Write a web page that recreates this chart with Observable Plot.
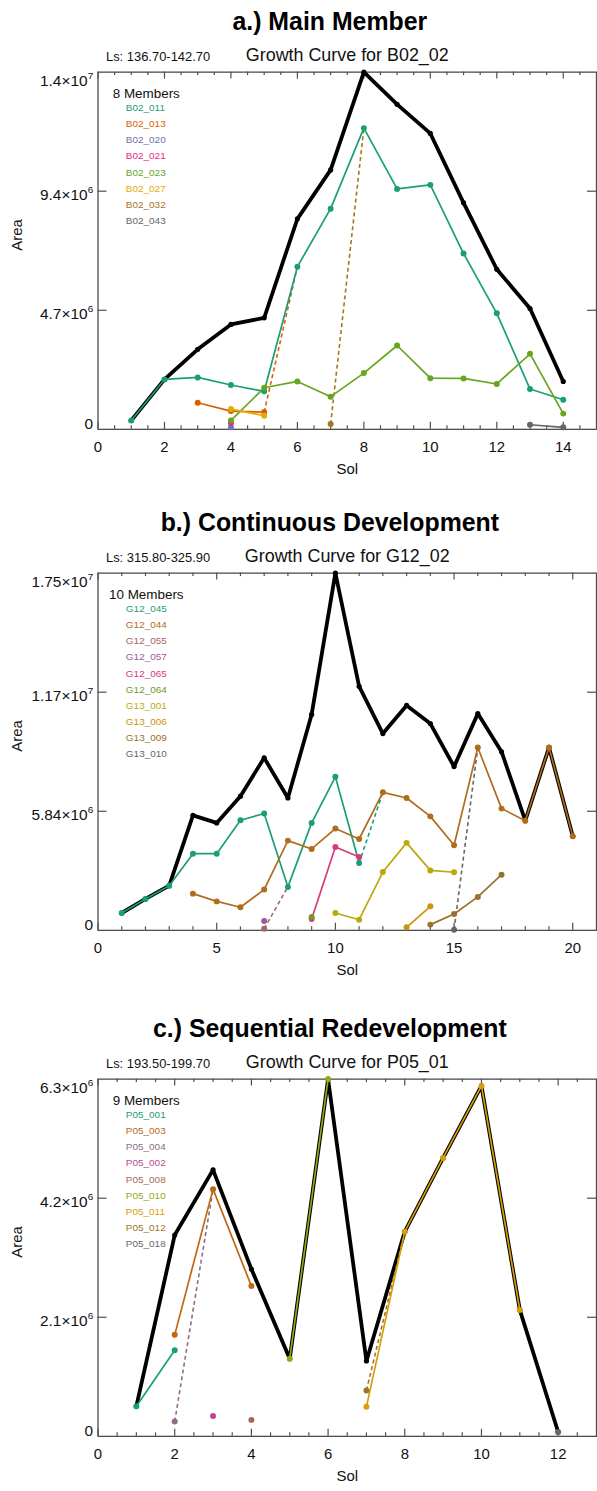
<!DOCTYPE html>
<html>
<head>
<meta charset="utf-8">
<script src="https://cdn.jsdelivr.net/npm/d3@7"></script>
<script src="https://cdn.jsdelivr.net/npm/@observablehq/plot@0.6"></script>
<style>
  html, body { margin: 0; padding: 0; background: #fff; }
  #page { position: relative; width: 597px; height: 1491px; overflow: hidden; background: #fff; }
  .panel { position: absolute; left: 0; width: 597px; overflow: hidden; }
</style>
</head>
<body>
<div id="page"></div>
<script>
// ---------- a.) Main Member : B02_02 ----------
const aTitle = "a.) Main Member";
const aLs = "Ls: 136.70-142.70";
const aMain = "B02_02";
const aMainSols = [1, 2, 3, 4, 5, 6, 7, 8, 9, 10, 11, 12, 13, 14];
const aMainAreas = [0.35e6, 1.97e6, 3.16e6, 4.14e6, 4.40e6, 8.31e6, 10.24e6, 14.1e6, 12.83e6, 11.68e6, 8.94e6, 6.32e6, 4.77e6, 1.89e6];
const aMembers = ["B02_011", "B02_013", "B02_020", "B02_021", "B02_023", "B02_027", "B02_032", "B02_043"];
const aSols = [
  [1, 2, 3, 4, 5, 6, 7, 8, 9, 10, 11, 12, 13, 14],
  [3, 4, 5],
  [4],
  [4],
  [4, 5, 6, 7, 8, 9, 10, 11, 12, 13, 14],
  [4, 5],
  [7],
  [13, 14]
];
const aAreas = [
  [0.35e6, 1.97e6, 2.05e6, 1.75e6, 1.50e6, 6.42e6, 8.71e6, 11.89e6, 9.49e6, 9.65e6, 6.94e6, 4.58e6, 1.59e6, 1.17e6],
  [1.05e6, 0.72e6, 0.68e6],
  [0.08e6],
  [0.25e6],
  [0.35e6, 1.64e6, 1.89e6, 1.29e6, 2.22e6, 3.31e6, 2.02e6, 2.01e6, 1.79e6, 2.98e6, 0.62e6],
  [0.80e6, 0.54e6],
  [0.21e6],
  [0.18e6, 0.08e6]
];
const aLinkFrom = ["B02_013", "B02_032"];
const aLinkFromSol = [5, 7];
const aLinkTo = ["B02_011", "B02_011"];
const aLinkToSol = [6, 8];
const aYTicks = [0, 4.7e6, 9.4e6, 1.41e7];
const aYMantissa = ["0", "4.7×10", "9.4×10", "1.4×10"];
const aYExponent = ["", "6", "6", "7"];
const aXLabels = [0, 2, 4, 6, 8, 10, 12, 14];

// ---------- b.) Continuous Development : G12_02 ----------
const bTitle = "b.) Continuous Development";
const bLs = "Ls: 315.80-325.90";
const bMain = "G12_02";
const bMainSols = [1, 2, 3, 4, 5, 6, 7, 8, 9, 10, 11, 12, 13, 14, 15, 16, 17, 18, 19, 20];
const bMainAreas = [0.85e6, 1.54e6, 2.19e6, 5.64e6, 5.27e6, 6.58e6, 8.46e6, 6.49e6, 10.59e6, 17.52e6, 11.97e6, 9.65e6, 11.03e6, 10.14e6, 8.03e6, 10.63e6, 8.76e6, 5.38e6, 8.97e6, 4.61e6];
const bMembers = ["G12_045", "G12_044", "G12_055", "G12_057", "G12_065", "G12_064", "G13_001", "G13_006", "G13_009", "G13_010"];
const bSols = [
  [1, 2, 3, 4, 5, 6, 7, 8, 9, 10, 11],
  [4, 5, 6, 7, 8, 9, 10, 11, 12, 13, 14, 15, 16, 17, 18, 19, 20],
  [7],
  [7],
  [9, 10, 11],
  [9],
  [10, 11, 12, 13, 14, 15],
  [13, 14],
  [14, 15, 16, 17],
  [15]
];
const bAreas = [
  [0.85e6, 1.54e6, 2.19e6, 3.76e6, 3.76e6, 5.40e6, 5.73e6, 2.13e6, 5.27e6, 7.53e6, 3.30e6],
  [1.80e6, 1.42e6, 1.13e6, 2.00e6, 4.40e6, 3.99e6, 4.99e6, 4.48e6, 6.77e6, 6.49e6, 5.59e6, 4.17e6, 8.97e6, 5.97e6, 5.38e6, 8.97e6, 4.61e6],
  [0.08e6],
  [0.46e6],
  [0.56e6, 4.09e6, 3.60e6],
  [0.65e6],
  [0.85e6, 0.52e6, 2.86e6, 4.29e6, 2.94e6, 2.85e6],
  [0.15e6, 1.18e6],
  [0.28e6, 0.80e6, 1.64e6, 2.73e6],
  [0.03e6]
];
const bLinkFrom = ["G12_055", "G12_045", "G13_010"];
const bLinkFromSol = [7, 11, 15];
const bLinkTo = ["G12_045", "G12_044", "G12_044"];
const bLinkToSol = [8, 12, 16];
const bYTicks = [0, 5.84e6, 1.168e7, 1.752e7];
const bYMantissa = ["0", "5.84×10", "1.17×10", "1.75×10"];
const bYExponent = ["", "6", "7", "7"];
const bXLabels = [0, 5, 10, 15, 20];

// ---------- c.) Sequential Redevelopment : P05_01 ----------
const cTitle = "c.) Sequential Redevelopment";
const cLs = "Ls: 193.50-199.70";
const cMain = "P05_01";
const cMainSols = [1, 2, 3, 4, 5, 6, 7, 8, 9, 10, 11, 12];
const cMainAreas = [0.53e6, 3.55e6, 4.70e6, 2.95e6, 1.37e6, 6.30e6, 1.33e6, 3.61e6, 4.91e6, 6.18e6, 2.23e6, 0.076e6];
const cMembers = ["P05_001", "P05_003", "P05_004", "P05_002", "P05_008", "P05_010", "P05_011", "P05_012", "P05_018"];
const cSols = [
  [1, 2],
  [2, 3, 4],
  [2],
  [3],
  [4],
  [5, 6],
  [7, 8, 9, 10, 11],
  [7],
  [12]
];
const cAreas = [
  [0.53e6, 1.52e6],
  [1.79e6, 4.36e6, 2.65e6],
  [0.26e6],
  [0.36e6],
  [0.29e6],
  [1.37e6, 6.30e6],
  [0.52e6, 3.61e6, 4.91e6, 6.18e6, 2.23e6],
  [0.81e6],
  [0.076e6]
];
const cLinkFrom = ["P05_004", "P05_012"];
const cLinkFromSol = [2, 7];
const cLinkTo = ["P05_003", "P05_011"];
const cLinkToSol = [3, 8];
const cYTicks = [0, 2.1e6, 4.2e6, 6.3e6];
const cYMantissa = ["0", "2.1×10", "4.2×10", "6.3×10"];
const cYExponent = ["", "6", "6", "6"];
const cXLabels = [0, 2, 4, 6, 8, 10, 12];

// ---------- drawing ----------
const FONT = "'Liberation Sans', Arial, Helvetica, sans-serif";
const WIDTH = 600, M_LEFT = 98, M_RIGHT = 1, M_TOP = 72, M_BOTTOM = 60, FRAME_H = 359;
const FRAME_W = WIDTH - M_LEFT - M_RIGHT;
const AXIS = "#4d4d4d";

function drawPanel(p) {
  const rows = p.members.flatMap((m, i) =>
    p.sols[i].map((s, j) => ({member: m, sol: s, area: p.areas[i][j]})));
  const main = p.mainSols.map((s, i) => ({sol: s, area: p.mainAreas[i]}));
  // member colours sampled evenly along the Dark2 palette
  const colors = d3.quantize(d3.piecewise(d3.interpolateRgb, d3.schemeDark2), p.members.length);
  const colorOf = new Map(p.members.map((m, i) => [m, colors[i]]));
  const valueAt = (m, s) => rows.find(r => r.member === m && r.sol === s).area;
  const links = p.linkFrom.map((m, i) => ({
    member: m,
    x1: p.linkFromSol[i], y1: valueAt(m, p.linkFromSol[i]),
    x2: p.linkToSol[i], y2: valueAt(p.linkTo[i], p.linkToSol[i])
  }));

  const major = p.xLabels;
  const nMinor = Math.round(p.xDomain[1] / p.minorStep);
  const minor = d3.range(1, nMinor).map(k => k * p.minorStep)
    .filter(v => !major.some(t => Math.abs(t - v) < 1e-9));
  const innerY = p.yTicks.slice(1, -1);

  const marks = [
    Plot.frame({stroke: AXIS, strokeWidth: 1.3}),
    // inward tick marks on all four sides
    Plot.ruleX(major, {x: d => d, insetTop: FRAME_H - 7, stroke: AXIS, strokeWidth: 1.2}),
    Plot.ruleX(major, {x: d => d, insetBottom: FRAME_H - 7, stroke: AXIS, strokeWidth: 1.2}),
    Plot.ruleX(minor, {x: d => d, insetTop: FRAME_H - 3.5, stroke: AXIS, strokeWidth: 1.2}),
    Plot.ruleX(minor, {x: d => d, insetBottom: FRAME_H - 3.5, stroke: AXIS, strokeWidth: 1.2}),
    Plot.ruleY(innerY, {y: d => d, insetRight: FRAME_W - 9, stroke: AXIS, strokeWidth: 1.2}),
    Plot.ruleY(innerY, {y: d => d, insetLeft: FRAME_W - 9, stroke: AXIS, strokeWidth: 1.2}),
    // main member growth curve
    Plot.line(main, {x: "sol", y: "area", stroke: "#000", strokeWidth: 3.8}),
    Plot.dot(main, {x: "sol", y: "area", fill: "#000", r: 2.6}),
    // merges into another member
    Plot.link(links, {x1: "x1", y1: "y1", x2: "x2", y2: "y2", stroke: "member",
      strokeWidth: 1.6, strokeDasharray: "4,3"}),
    // individual members
    Plot.line(rows, {x: "sol", y: "area", z: "member", stroke: "member", strokeWidth: 1.7}),
    Plot.dot(rows, {x: "sol", y: "area", fill: "member", r: 3}),
    // headings
    Plot.text([p.title], {frameAnchor: "top", dx: -17.5, dy: -42.5, lineAnchor: "bottom",
      fontSize: 25, fontWeight: "bold", fill: "#000"}),
    Plot.text([p.ls], {frameAnchor: "top-left", dx: 8, dy: -11.5, textAnchor: "start",
      lineAnchor: "bottom", fontSize: 13, fill: "#111"}),
    Plot.text([`Growth Curve for ${p.main}`], {frameAnchor: "top", dy: -11.5,
      lineAnchor: "bottom", fontSize: 18, fill: "#111"}),
    // axis labels
    Plot.text(p.xLabels, {x: d => d, frameAnchor: "bottom", dy: 22.5, fontSize: 15, fill: "#111"}),
    Plot.text(["Sol"], {frameAnchor: "bottom", dy: 44.5, fontSize: 15, fill: "#111"}),
    Plot.text(["Area"], {frameAnchor: "left", dx: -81, rotate: -90, fontSize: 15, fill: "#111"}),
    // legend
    Plot.text([`${p.members.length} Members`], {frameAnchor: "top-left", dx: 48.5, dy: 16.5,
      textAnchor: "middle", fontSize: 13.5, fill: "#111"}),
    ...p.members.map((m, i) => Plot.text([m], {frameAnchor: "top-left", dx: 28,
      dy: 31.8 + 16.25 * i, textAnchor: "start", fontSize: 10, fill: colorOf.get(m)}))
  ];

  // y tick labels: mantissa with a raised exponent, kept inside the axis range
  const last = p.yTicks.length - 1;
  p.yTicks.forEach((t, i) => {
    if (!p.yExponent[i]) {
      marks.push(Plot.text([t], {y: d => d, frameAnchor: "left", dx: -5, textAnchor: "end",
        lineAnchor: "bottom", text: () => p.yMantissa[i], fontSize: 15.5, fill: "#111"}));
      return;
    }
    const base = i === last ? 13.5 : 8.5;
    marks.push(Plot.text([t], {y: d => d, frameAnchor: "left", dx: -10.5, dy: base,
      textAnchor: "end", lineAnchor: "bottom", text: () => p.yMantissa[i], fontSize: 15.5, fill: "#111"}));
    marks.push(Plot.text([t], {y: d => d, frameAnchor: "left", dx: -10.2, dy: base - 6.5,
      textAnchor: "start", lineAnchor: "bottom", text: () => p.yExponent[i], fontSize: 10, fill: "#111"}));
  });

  return Plot.plot({
    width: WIDTH,
    height: M_TOP + FRAME_H + M_BOTTOM,
    marginTop: M_TOP, marginBottom: M_BOTTOM, marginLeft: M_LEFT, marginRight: M_RIGHT,
    x: {domain: p.xDomain, axis: null},
    y: {domain: [0, p.yMax], axis: null},
    color: {domain: p.members, range: colors},
    style: {fontFamily: FONT, background: "#fff", color: "#111", overflow: "visible"},
    marks
  });
}

const panels = [
  {top: -0.5, title: aTitle, ls: aLs, main: aMain, mainSols: aMainSols, mainAreas: aMainAreas,
   members: aMembers, sols: aSols, areas: aAreas, linkFrom: aLinkFrom, linkFromSol: aLinkFromSol,
   linkTo: aLinkTo, linkToSol: aLinkToSol, yTicks: aYTicks, yMantissa: aYMantissa,
   yExponent: aYExponent, xLabels: aXLabels, xDomain: [0, 15], minorStep: 0.5, yMax: 1.41e7},
  {top: 500.5, title: bTitle, ls: bLs, main: bMain, mainSols: bMainSols, mainAreas: bMainAreas,
   members: bMembers, sols: bSols, areas: bAreas, linkFrom: bLinkFrom, linkFromSol: bLinkFromSol,
   linkTo: bLinkTo, linkToSol: bLinkToSol, yTicks: bYTicks, yMantissa: bYMantissa,
   yExponent: bYExponent, xLabels: bXLabels, xDomain: [0, 21], minorStep: 1, yMax: 1.752e7},
  {top: 1007.3, title: cTitle, ls: cLs, main: cMain, mainSols: cMainSols, mainAreas: cMainAreas,
   members: cMembers, sols: cSols, areas: cAreas, linkFrom: cLinkFrom, linkFromSol: cLinkFromSol,
   linkTo: cLinkTo, linkToSol: cLinkToSol, yTicks: cYTicks, yMantissa: cYMantissa,
   yExponent: cYExponent, xLabels: cXLabels, xDomain: [0, 13], minorStep: 0.5, yMax: 6.3e6}
];

const page = document.getElementById("page");
for (const p of panels) {
  const div = document.createElement("div");
  div.className = "panel";
  div.style.top = p.top + "px";
  div.style.height = (M_TOP + FRAME_H + M_BOTTOM) + "px";
  div.appendChild(drawPanel(p));
  page.appendChild(div);
}
</script>
</body>
</html>
